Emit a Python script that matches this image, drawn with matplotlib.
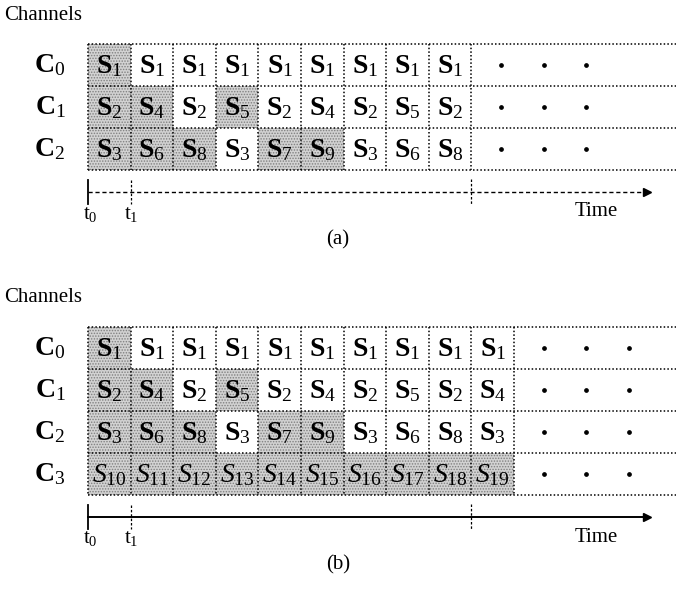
import numpy as np
import matplotlib
matplotlib.use('Agg')
from matplotlib import pyplot as plt
from matplotlib.patches import Rectangle

plt.rcParams['font.family'] = ['Liberation Serif', 'DejaVu Serif']
plt.rcParams['mathtext.fontset'] = 'custom'
plt.rcParams['mathtext.rm'] = 'Liberation Serif'
plt.rcParams['mathtext.it'] = 'Liberation Serif:italic'
plt.rcParams['mathtext.bf'] = 'Liberation Serif:bold'
plt.rcParams['hatch.linewidth'] = 0.7

# slot contents per channel (subscript of S)
slots_a = [[1, 1, 1, 1, 1, 1, 1, 1, 1],
           [2, 4, 2, 5, 2, 4, 2, 5, 2],
           [3, 6, 8, 3, 7, 9, 3, 6, 8]]
slots_b = [[1, 1, 1, 1, 1, 1, 1, 1, 1, 1],
           [2, 4, 2, 5, 2, 4, 2, 5, 2, 4],
           [3, 6, 8, 3, 7, 9, 3, 6, 8, 3],
           [10, 11, 12, 13, 14, 15, 16, 17, 18, 19]]
italic_rows_b = [3]
channels_a = ['0', '1', '2']
channels_b = ['0', '1', '2', '3']
panel_labels = ['(a)', '(b)']

CW, RH = 42.6, 42.0   # cell width / height in pixels
X0 = 88


def draw_panel(ax, slots, chans, y0, italic_rows, axis_solid, label):
    nrows = len(slots)
    ncols = len(slots[0])
    ax.text(4, y0 - 29, 'Channels', fontsize=15, va='center', ha='left')
    for r, row in enumerate(slots):
        yc = y0 + (r + 0.5) * RH
        ax.text(50, yc, r'$\mathbf{C}_{\mathrm{%s}}$' % chans[r], fontsize=20,
                ha='center', va='center')
        seen = set()
        for c, s in enumerate(row):
            x = X0 + c * CW
            if s not in seen:
                ax.add_patch(Rectangle((x, y0 + r * RH), CW, RH,
                                       facecolor='#d2d2d2', edgecolor='#808080',
                                       linewidth=0, hatch='......', zorder=1))
                seen.add(s)
            if r in italic_rows:
                txt = r'$S_{\mathrm{%d}}$' % s
            else:
                txt = r'$\mathbf{S}_{\mathrm{%d}}$' % s
            ax.text(x + CW / 2, yc + 1, txt, fontsize=20, ha='center',
                    va='center', zorder=3)
        for k in range(3):
            ax.plot(X0 + (ncols + 0.7 + k) * CW, yc, 'o', color='k',
                    markersize=2.4, zorder=3)
    # grid
    for r in range(nrows + 1):
        ax.plot([X0, 676], [y0 + r * RH] * 2, color='k', lw=1.1,
                ls=(0, (1, 1.4)), zorder=2)
    for c in range(ncols + 1):
        ax.plot([X0 + c * CW] * 2, [y0, y0 + nrows * RH], color='k', lw=1.1,
                ls=(0, (1, 1.4)), zorder=2)
    # time axis
    ya = y0 + nrows * RH + 22
    ls = '-' if axis_solid else (0, (3, 2))
    ax.plot([X0, 645], [ya, ya], color='k', lw=1.0 if not axis_solid else 1.4,
            ls=ls)
    ax.plot(647, ya, marker='>', color='k', markersize=6)
    ax.plot([X0, X0], [ya - 12, ya + 12], color='k', lw=1.3)
    ax.plot([X0 + CW] * 2, [ya - 12, ya + 12], color='k', lw=0.9,
            ls=(0, (2, 1.5)))
    ax.plot([X0 + 9 * CW] * 2, [ya - 13, ya + 13], color='k', lw=0.9,
            ls=(0, (2, 1.5)))
    ax.text(X0 + 2, ya + 22, r'$\mathrm{t}_{\mathrm{0}}$', fontsize=15,
            ha='center', va='center')
    ax.text(X0 + CW + 1, ya + 22, r'$\mathrm{t}_{\mathrm{1}}$', fontsize=15,
            ha='center', va='center')
    ax.text(596, ya + 20, 'Time', fontsize=15, ha='center', va='center')
    ax.text(338, ya + 48, label, fontsize=15, ha='center', va='center')


fig = plt.figure(figsize=(6.76, 5.95), dpi=100)
ax = fig.add_axes([0, 0, 1, 1])
ax.set_xlim(0, 676)
ax.set_ylim(595, 0)
ax.axis('off')

draw_panel(ax, slots_a, channels_a, 44, [], False, panel_labels[0])
draw_panel(ax, slots_b, channels_b, 327, italic_rows_b, True, panel_labels[1])

fig.savefig('out.png', dpi=100)
